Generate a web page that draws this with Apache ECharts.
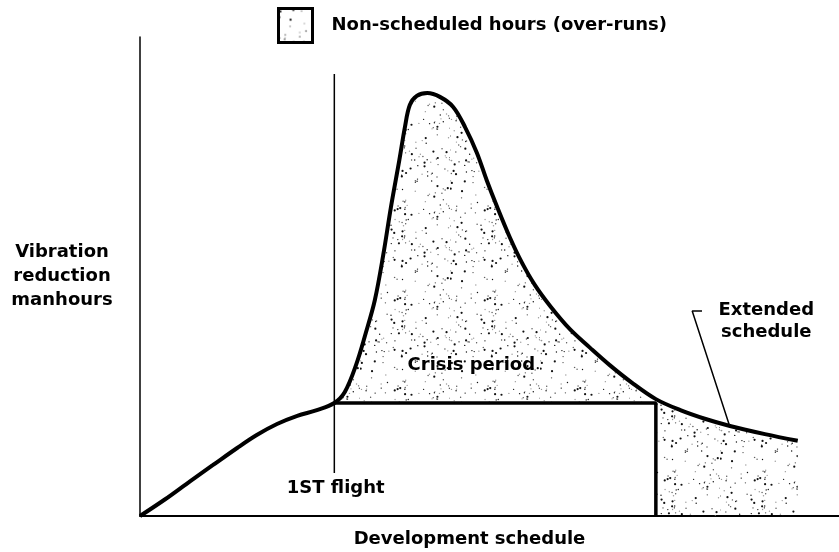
<!DOCTYPE html>
<html>
<head>
<meta charset="utf-8">
<script src="https://cdn.jsdelivr.net/npm/echarts@6/dist/echarts.min.js"></script>
<style>
  html, body { margin: 0; padding: 0; background: #fff; }
  #chart { width: 839px; height: 552px; }
</style>
</head>
<body>
<div id="chart"></div>
<script>
// development schedule (0-100) and vibration reduction manhours (0-100)
var scheduleX = [0, 3.6, 7.2, 10.4, 13.9, 16.7, 19.6, 22.5, 25.3, 27.8, 29.3, 30.9, 32.3, 33.6, 34.8, 35.9, 37.1, 37.9, 38.6, 39.6, 41.1, 42.9, 44.8, 46.5, 48.2, 49.6, 51.1, 52.9, 54.6, 56.5, 58.7, 61.5, 64.4, 67.2, 70.4, 73.8, 77.3, 80.8, 84.4, 89.4, 94.1];
var manhours = [0, 3.5, 7.3, 10.6, 14.2, 16.9, 19.2, 20.9, 22.1, 23.6, 25.9, 31.5, 38.2, 45.1, 54.5, 64.5, 74.3, 81.2, 85.8, 87.7, 88.3, 87.5, 85.4, 81.2, 75.8, 70.1, 64.5, 58.2, 53.0, 48.2, 43.8, 39.0, 35.1, 31.5, 27.8, 24.4, 22.1, 20.3, 18.8, 17.1, 15.7];

var firstFlightX = 27.8;
var firstFlightTop = 92.3;
var firstFlightBottom = 9.0;
var scheduledLevel = 23.6;
var scheduleEndX = 73.8;

// pointer from the "Extended schedule" note down to the curve
var pointerX = [80.4, 79.0, 84.4];
var pointerY = [42.8, 42.8, 18.6];

var legendName = "Non-scheduled hours (over-runs)";
var xName = "Development schedule";
var yName = "Vibration\nreduction\nmanhours";
var crisisText = "Crisis period";
var extendedText = "Extended\nschedule";
var flightText = "1ST flight";

var curve = scheduleX.map(function (x, i) { return [x, manhours[i]]; });
var crisisPart = curve.filter(function (p) { return p[0] >= firstFlightX && p[0] <= scheduleEndX; });
var extendedPart = curve.filter(function (p) { return p[0] >= scheduleEndX; });
var pointer = pointerX.map(function (x, i) { return [x, pointerY[i]]; });

// stipple texture for the over-run areas
function stipple() {
  var c = document.createElement("canvas");
  c.width = 90; c.height = 90;
  var ctx = c.getContext("2d");
  var s = 11;
  var rnd = function () { s = (s * 16807) % 2147483647; return s / 2147483647; };
  for (var i = 0; i < 170; i++) {
    var k = rnd();
    ctx.fillStyle = k < 0.45 ? "#111" : (k < 0.75 ? "#555" : "#999");
    ctx.beginPath();
    ctx.arc(rnd() * 90, rnd() * 90, k < 0.2 ? 1.1 : 0.7, 0, Math.PI * 2);
    ctx.fill();
  }
  return c;
}
var dots = { image: stipple(), repeat: "repeat" };

var font = { color: "#000", fontFamily: "DejaVu Sans", fontWeight: "bold", fontSize: 18 };
var smoothness = 0.35;

function note(text, x, y) {
  return {
    silent: true,
    symbol: "circle",
    symbolSize: 0,
    label: Object.assign({ show: true, position: "inside", formatter: text, lineHeight: 22 }, font),
    data: [{ coord: [x, y] }]
  };
}

var myChart = echarts.init(document.getElementById("chart"));
myChart.setOption({
  animation: false,
  backgroundColor: "#fff",
  grid: { left: 140, right: 0, top: 37, bottom: 36, outerBoundsMode: "none" },
  legend: {
    left: 277,
    top: 7,
    padding: 0,
    itemWidth: 34,
    itemHeight: 34,
    selectedMode: false,
    textStyle: Object.assign({ padding: [0, 0, 0, 14] }, font),
    data: [{
      name: legendName,
      icon: "rect",
      itemStyle: { color: dots, borderColor: "#000", borderWidth: 3 }
    }]
  },
  xAxis: {
    type: "value",
    min: 0,
    max: 100,
    name: xName,
    nameLocation: "middle",
    nameGap: 14,
    nameTextStyle: Object.assign({ padding: [0, 40, 0, 0] }, font),
    axisLine: { show: true, lineStyle: { color: "#000", width: 2 } },
    axisTick: { show: false },
    axisLabel: { show: false },
    splitLine: { show: false }
  },
  yAxis: {
    type: "value",
    min: 0,
    max: 100,
    name: yName,
    nameLocation: "middle",
    nameRotate: 0,
    nameGap: 78,
    nameTextStyle: Object.assign({ align: "center", verticalAlign: "middle", lineHeight: 24, padding: [10, 0, 0, 0] }, font),
    axisLine: { show: true, lineStyle: { color: "#000", width: 1.5 } },
    axisTick: { show: false },
    axisLabel: { show: false },
    splitLine: { show: false }
  },
  series: [
    {
      name: legendName,
      type: "line",
      data: crisisPart,
      smooth: smoothness,
      showSymbol: false,
      lineStyle: { width: 0 },
      areaStyle: { color: dots, opacity: 1, origin: scheduledLevel },
      markPoint: note(crisisText, 47.4, 31.5),
      z: 1
    },
    {
      name: legendName,
      type: "line",
      data: extendedPart,
      smooth: smoothness,
      showSymbol: false,
      lineStyle: { width: 0 },
      areaStyle: { color: dots, opacity: 1, origin: 0 },
      z: 1
    },
    {
      name: "scheduled",
      type: "line",
      data: [[firstFlightX, scheduledLevel], [scheduleEndX, scheduledLevel], [scheduleEndX, 0]],
      showSymbol: false,
      lineStyle: { color: "#000", width: 3.5 },
      z: 3
    },
    {
      name: "first flight",
      type: "line",
      data: [[firstFlightX, firstFlightTop], [firstFlightX, firstFlightBottom]],
      showSymbol: false,
      lineStyle: { color: "#000", width: 1.5 },
      markPoint: note(flightText, 28.0, 5.8),
      z: 3
    },
    {
      name: "pointer",
      type: "line",
      data: pointer,
      showSymbol: false,
      lineStyle: { color: "#000", width: 1.5 },
      markPoint: note(extendedText, 89.6, 40.7),
      z: 3
    },
    {
      name: "manhours",
      type: "line",
      data: curve,
      smooth: smoothness,
      showSymbol: false,
      lineStyle: { color: "#000", width: 4 },
      z: 4
    }
  ]
});
</script>
</body>
</html>
